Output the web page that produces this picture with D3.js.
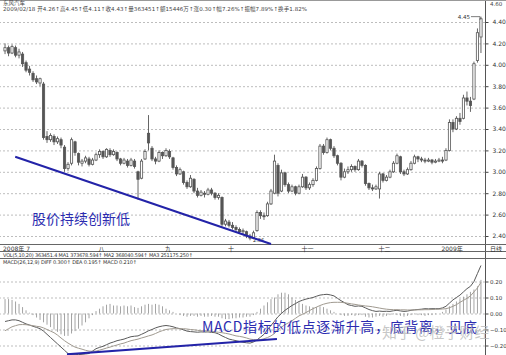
<!DOCTYPE html>
<html>
<head>
<meta charset="utf-8">
<script src="https://cdn.jsdelivr.net/npm/d3@7"></script>
<style>
  html, body { margin: 0; padding: 0; background: #fff; }
  svg { display: block; }
  text { font-family: "DejaVu Sans", "Noto Sans CJK SC", sans-serif; }
  .note { font-family: "Noto Sans CJK SC", sans-serif; }
</style>
</head>
<body>
<svg id="chart" width="506" height="355"></svg>
<script>
// daily candles (price in yuan)
const OPEN = [
  4.13, 4.16, 4.11, 4.16, 4.09, 4.10, 4.02, 3.96, 3.92, 3.87,
  3.83, 3.82, 3.33, 3.30, 3.33, 3.28, 3.30, 3.23, 3.03, 3.08,
  3.28, 3.17, 3.08, 3.10, 3.12, 3.07, 3.11, 3.16, 3.19, 3.14,
  3.20, 3.16, 3.18, 3.12, 3.08, 3.10, 3.06, 3.10, 3.00, 2.94,
  3.12, 3.36, 3.22, 3.12, 3.10, 3.18, 3.15, 3.19, 3.13, 3.04,
  2.98, 3.00, 2.90, 2.86, 2.93, 2.82, 2.78, 2.80, 2.79, 2.83,
  2.80, 2.76, 2.76, 2.51, 2.53, 2.50, 2.48, 2.46, 2.44, 2.44,
  2.40, 2.38, 2.45, 2.62, 2.59, 2.59, 2.70, 2.80, 3.06, 2.82,
  2.99, 2.88, 2.82, 2.86, 2.80, 2.86, 2.95, 2.85, 2.88, 2.92,
  3.03, 3.24, 3.18, 3.30, 3.22, 3.15, 3.08, 2.95, 3.00, 3.02,
  3.05, 3.02, 3.10, 3.06, 2.89, 2.85, 2.84, 2.84, 2.98, 2.92,
  2.95, 3.00, 3.08, 3.14, 3.00, 2.98, 3.02, 3.08, 3.14, 3.12,
  3.11, 3.10, 3.11, 3.09, 3.10, 3.11, 3.11, 3.20, 3.46, 3.40,
  3.50, 3.50, 3.69, 3.66, 3.68, 4.04, 4.26,
];
const HIGH = [
  4.20, 4.18, 4.19, 4.18, 4.15, 4.12, 4.04, 3.99, 3.94, 3.90,
  3.88, 3.84, 3.38, 3.36, 3.35, 3.33, 3.32, 3.25, 3.09, 3.32,
  3.29, 3.18, 3.12, 3.15, 3.14, 3.13, 3.18, 3.21, 3.20, 3.22,
  3.22, 3.21, 3.19, 3.13, 3.13, 3.12, 3.13, 3.12, 3.01, 3.12,
  3.21, 3.53, 3.24, 3.14, 3.20, 3.19, 3.22, 3.21, 3.14, 3.06,
  3.04, 3.01, 2.92, 2.97, 2.94, 2.85, 2.83, 2.82, 2.85, 2.85,
  2.81, 2.80, 2.77, 2.56, 2.55, 2.53, 2.50, 2.48, 2.47, 2.45,
  2.42, 2.45, 2.64, 2.64, 2.62, 2.72, 2.84, 3.16, 3.08, 3.02,
  3.00, 2.90, 2.88, 2.87, 2.88, 2.98, 2.96, 2.90, 2.94, 3.05,
  3.26, 3.26, 3.32, 3.31, 3.24, 3.16, 3.09, 3.03, 3.05, 3.07,
  3.06, 3.12, 3.11, 3.07, 2.90, 2.88, 2.88, 3.00, 2.99, 2.97,
  3.02, 3.10, 3.17, 3.15, 3.02, 3.04, 3.10, 3.16, 3.15, 3.14,
  3.13, 3.13, 3.12, 3.12, 3.13, 3.14, 3.22, 3.49, 3.49, 3.52,
  3.55, 3.72, 3.75, 3.70, 4.03, 4.34, 4.45,
];
const LOW = [
  4.10, 4.08, 4.10, 4.07, 4.06, 3.98, 3.93, 3.90, 3.84, 3.82,
  3.80, 3.30, 3.27, 3.28, 3.25, 3.26, 3.22, 3.00, 3.01, 3.06,
  3.15, 3.06, 3.05, 3.08, 3.05, 3.06, 3.10, 3.13, 3.12, 3.13,
  3.14, 3.15, 3.10, 3.06, 3.07, 3.04, 3.05, 3.03, 2.74, 2.93,
  3.11, 3.20, 3.10, 3.07, 3.09, 3.12, 3.14, 3.12, 3.02, 2.96,
  2.97, 2.88, 2.84, 2.85, 2.80, 2.76, 2.77, 2.76, 2.78, 2.78,
  2.74, 2.74, 2.49, 2.49, 2.48, 2.46, 2.44, 2.42, 2.41, 2.38,
  2.36, 2.37, 2.44, 2.56, 2.55, 2.58, 2.69, 2.79, 2.77, 2.81,
  2.86, 2.80, 2.81, 2.78, 2.79, 2.85, 2.83, 2.83, 2.86, 2.91,
  3.02, 3.16, 3.17, 3.20, 3.13, 3.06, 2.92, 2.94, 2.98, 3.00,
  3.00, 3.01, 3.04, 2.87, 2.83, 2.82, 2.83, 2.75, 2.90, 2.91,
  2.94, 2.99, 3.07, 2.98, 2.96, 2.97, 3.01, 3.07, 3.09, 3.09,
  3.08, 3.09, 3.07, 3.08, 3.09, 3.08, 3.10, 3.19, 3.37, 3.39,
  3.44, 3.49, 3.62, 3.56, 3.67, 4.02, 4.11,
];
const CLOSE = [
  4.16, 4.11, 4.17, 4.09, 4.12, 4.01, 3.95, 3.93, 3.86, 3.84,
  3.87, 3.32, 3.30, 3.34, 3.28, 3.31, 3.25, 3.03, 3.07, 3.30,
  3.18, 3.09, 3.10, 3.13, 3.07, 3.11, 3.16, 3.19, 3.14, 3.21,
  3.16, 3.19, 3.12, 3.08, 3.11, 3.06, 3.11, 3.05, 2.93, 3.10,
  3.19, 3.27, 3.12, 3.10, 3.18, 3.15, 3.20, 3.14, 3.04, 2.98,
  3.02, 2.90, 2.86, 2.94, 2.82, 2.78, 2.81, 2.79, 2.83, 2.80,
  2.76, 2.78, 2.51, 2.54, 2.50, 2.48, 2.46, 2.44, 2.45, 2.40,
  2.38, 2.43, 2.62, 2.59, 2.58, 2.70, 2.82, 3.10, 2.80, 2.99,
  2.88, 2.82, 2.86, 2.80, 2.86, 2.95, 2.85, 2.88, 2.92, 3.03,
  3.24, 3.18, 3.30, 3.22, 3.15, 3.08, 2.95, 3.00, 3.02, 3.05,
  3.02, 3.10, 3.06, 2.89, 2.85, 2.84, 2.86, 2.98, 2.92, 2.95,
  3.00, 3.08, 3.15, 3.00, 2.98, 3.02, 3.08, 3.14, 3.12, 3.11,
  3.10, 3.11, 3.09, 3.10, 3.11, 3.10, 3.20, 3.46, 3.40, 3.50,
  3.47, 3.69, 3.66, 3.62, 4.01, 4.30, 4.43,
];

// MACD(26,12,9) lines and bars, one value per candle
const DIFF = [
  -0.05, -0.045, -0.04, -0.04, -0.045, -0.055, -0.065, -0.072, -0.08, -0.087,
  -0.095, -0.11, -0.13, -0.15, -0.17, -0.19, -0.21, -0.23, -0.25, -0.255,
  -0.255, -0.257, -0.255, -0.253, -0.25, -0.235, -0.22, -0.212, -0.205, -0.195,
  -0.185, -0.178, -0.17, -0.165, -0.16, -0.152, -0.145, -0.142, -0.14, -0.13,
  -0.12, -0.108, -0.1, -0.09, -0.083, -0.078, -0.075, -0.078, -0.083, -0.09,
  -0.095, -0.102, -0.11, -0.113, -0.115, -0.117, -0.115, -0.116, -0.115, -0.118,
  -0.12, -0.128, -0.14, -0.15, -0.16, -0.165, -0.17, -0.175, -0.18, -0.183,
  -0.185, -0.178, -0.165, -0.148, -0.13, -0.1, -0.075, -0.048, -0.02, 0.0,
  0.02, 0.035, 0.05, 0.062, 0.075, 0.083, 0.09, 0.095, 0.1, 0.108,
  0.115, 0.118, 0.12, 0.116, 0.11, 0.095, 0.08, 0.068, 0.055, 0.05,
  0.045, 0.047, 0.045, 0.035, 0.025, 0.018, 0.013, 0.015, 0.013, 0.014,
  0.013, 0.017, 0.02, 0.016, 0.013, 0.015, 0.02, 0.023, 0.025, 0.027,
  0.03, 0.029, 0.03, 0.03, 0.03, 0.035, 0.045, 0.065, 0.085, 0.1,
  0.115, 0.135, 0.155, 0.17, 0.2, 0.25, 0.3,
];
const DEA = [
  -0.108, -0.095, -0.083, -0.076, -0.07, -0.069, -0.07, -0.073, -0.076, -0.08,
  -0.083, -0.09, -0.1, -0.11, -0.12, -0.135, -0.153, -0.17, -0.185, -0.198,
  -0.21, -0.217, -0.223, -0.23, -0.235, -0.236, -0.235, -0.229, -0.223, -0.216,
  -0.21, -0.203, -0.197, -0.19, -0.185, -0.177, -0.17, -0.165, -0.16, -0.153,
  -0.147, -0.14, -0.134, -0.125, -0.115, -0.107, -0.1, -0.097, -0.095, -0.095,
  -0.095, -0.095, -0.097, -0.1, -0.102, -0.105, -0.108, -0.108, -0.108, -0.111,
  -0.115, -0.117, -0.12, -0.124, -0.128, -0.134, -0.14, -0.143, -0.147, -0.153,
  -0.16, -0.163, -0.165, -0.163, -0.158, -0.15, -0.14, -0.125, -0.1, -0.085,
  -0.07, -0.058, -0.045, -0.03, -0.015, -0.005, 0.006, 0.018, 0.03, 0.04,
  0.05, 0.058, 0.064, 0.068, 0.07, 0.07, 0.07, 0.067, 0.064, 0.06,
  0.057, 0.053, 0.05, 0.047, 0.045, 0.042, 0.038, 0.034, 0.03, 0.027,
  0.025, 0.024, 0.024, 0.023, 0.023, 0.022, 0.022, 0.022, 0.023, 0.023,
  0.024, 0.024, 0.025, 0.026, 0.027, 0.028, 0.03, 0.036, 0.045, 0.055,
  0.07, 0.082, 0.095, 0.11, 0.135, 0.16, 0.195,
];
const MACD_BAR = [
  0.09, 0.09, 0.085, 0.075, 0.06, 0.04, 0.02, 0.005, -0.01, -0.025,
  -0.04, -0.055, -0.07, -0.085, -0.1, -0.115, -0.13, -0.14, -0.14, -0.125,
  -0.11, -0.095, -0.075, -0.055, -0.03, -0.01, 0.015, 0.03, 0.045, 0.055,
  0.06, 0.05, 0.05, 0.045, 0.05, 0.045, 0.05, 0.04, 0.035, 0.045,
  0.055, 0.06, 0.055, 0.06, 0.055, 0.045, 0.03, 0.02, 0.01, 0.0,
  -0.01, -0.015, -0.02, -0.015, -0.015, -0.02, -0.015, -0.02, -0.02, -0.015,
  -0.02, -0.02, -0.03, -0.035, -0.035, -0.03, -0.03, -0.025, -0.025, -0.02,
  -0.02, -0.01, 0.01, 0.03, 0.05, 0.07, 0.09, 0.1, 0.12, 0.13,
  0.13, 0.12, 0.1, 0.085, 0.07, 0.06, 0.05, 0.045, 0.04, 0.04,
  0.045, 0.04, 0.03, 0.02, 0.01, 0.0, -0.01, -0.015, -0.015, -0.01,
  -0.015, -0.01, -0.01, -0.02, -0.025, -0.025, -0.02, -0.015, -0.02, -0.015,
  -0.01, -0.005, -0.01, -0.015, -0.02, -0.015, -0.01, -0.005, -0.01, -0.01,
  -0.015, -0.01, -0.01, -0.005, 0.0, 0.01, 0.025, 0.045, 0.06, 0.075,
  0.09, 0.105, 0.12, 0.135, 0.15, 0.17, 0.21,
];

// axis ticks
const PRICE_TICKS = [4.4, 4.2, 4.0, 3.8, 3.6, 3.4, 3.2, 3.0, 2.8, 2.6, 2.4];
const MACD_TICKS = [0.2, 0.1, 0.0, -0.1, -0.2];
const DATE_LABELS = ["2008年 7", "八", "九", "十", "十一", "十二", "2009年"];
const DATE_INDEX = [0, 27, 46, 64, 85, 107, 125];

// hand-drawn annotations, in (candle index, value) space
const PRICE_TREND = [[2.9, 3.14], [76, 2.325]];
const MACD_TREND = [[17.7, -0.255], [77.7, -0.16]];

// header texts
const TITLE = "东风汽车";
const HEADER =
  "2009/02/18 开4.26↑高4.45↑低4.11↑收4.43↑量363451↑额15446万↑涨0.30↑幅7.26%↑振幅7.89%↑换手1.82%";
const VOL_INFO =
  "VOL(5,10,20) 363451.4 MA1 373678.594↑ MA2 368040.594↑ MA3 251175.250↑";
const MACD_INFO = "MACD(26,12,9) DIFF 0.300↑ DEA 0.195↑ MACD 0.210↑";

const N = CLOSE.length;
const PLOT_RIGHT = 485;
const BLUE = "#2323a8";

const svg = d3.select("#chart");

// candle positions (x)
const xScale = d3
  .scaleBand()
  .domain(d3.range(N))
  .range([3.2, 482.8])
  .paddingInner(0.35)
  .paddingOuter(0.2);
const cx = (i) => xScale(i) + xScale.bandwidth() / 2;
const xLin = d3.scaleLinear().domain([0, N - 1]).range([cx(0), cx(N - 1)]);

// price scale and MACD scale (y)
const yPrice = d3.scaleLinear().domain([2.4, 4.4]).range([236, 22]);
const yMacd = d3.scaleLinear().domain([-0.2, 0.2]).range([345.5, 281.5]);

// dotted grid lines
function drawGrid(scale, ticks) {
  svg
    .append("g")
    .attr("class", "grid")
    .attr("transform", `translate(${PLOT_RIGHT}, 0)`)
    .call(d3.axisLeft(scale).tickValues(ticks).tickSize(PLOT_RIGHT).tickFormat(""))
    .call((g) => g.select(".domain").remove())
    .call((g) =>
      g.selectAll("line").attr("stroke", "#bdbdbd").attr("stroke-dasharray", "2,2")
    );
}
drawGrid(yPrice, PRICE_TICKS);
drawGrid(yMacd, MACD_TICKS);

// right axes with labels
function drawAxis(scale, ticks, labelX, fontSize) {
  svg
    .append("g")
    .attr("class", "axis")
    .attr("transform", `translate(${PLOT_RIGHT + 0.5}, 0)`)
    .call(d3.axisRight(scale).tickValues(ticks).tickSize(3).tickFormat(d3.format(".2f")))
    .call((g) => g.select(".domain").remove())
    .call((g) => g.selectAll("line").attr("stroke", "#444"))
    .call((g) =>
      g
        .selectAll("text")
        .attr("x", labelX)
        .attr("fill", "#333")
        .style("font-size", fontSize)
    );
}
drawAxis(yPrice, PRICE_TICKS, 7, "6px");
drawAxis(yMacd, MACD_TICKS, 4.5, "5.5px");

// frame lines
const frame = svg.append("g").attr("stroke", "#555").attr("stroke-width", 1);
frame.append("line").attr("x1", PLOT_RIGHT + 0.5).attr("x2", PLOT_RIGHT + 0.5).attr("y1", 0).attr("y2", 355);
[0.5, 244.5, 251.5, 258.5].forEach((y) => {
  frame.append("line").attr("x1", 0).attr("x2", 506).attr("y1", y).attr("y2", y)
    .attr("stroke", y === 0.5 ? "#999" : "#666");
});

// candle wicks
svg
  .append("g")
  .selectAll("line")
  .data(d3.range(N))
  .join("line")
  .attr("x1", (i) => cx(i))
  .attr("x2", (i) => cx(i))
  .attr("y1", (i) => yPrice(HIGH[i]))
  .attr("y2", (i) => yPrice(LOW[i]))
  .attr("stroke", "#555")
  .attr("stroke-width", 0.9);

// candle bodies: hollow when up, filled when down
svg
  .append("g")
  .selectAll("rect")
  .data(d3.range(N))
  .join("rect")
  .attr("x", (i) => xScale(i))
  .attr("width", xScale.bandwidth())
  .attr("y", (i) => yPrice(Math.max(OPEN[i], CLOSE[i])))
  .attr("height", (i) =>
    Math.max(0.8, Math.abs(yPrice(OPEN[i]) - yPrice(CLOSE[i])))
  )
  .attr("fill", (i) => (CLOSE[i] >= OPEN[i] ? "#fff" : "#555"))
  .attr("stroke", "#555")
  .attr("stroke-width", 0.8);

// highest / lowest price markers
const hiX = cx(N - 1);
svg
  .append("path")
  .attr("d", `M${hiX - 10},${yPrice(4.45)}H${hiX - 1}V${yPrice(4.45) + 3}`)
  .attr("fill", "none")
  .attr("stroke", "#444")
  .attr("stroke-width", 0.7);
svg
  .append("text")
  .attr("x", hiX - 11)
  .attr("y", yPrice(4.45) + 2)
  .attr("text-anchor", "end")
  .attr("fill", "#333")
  .style("font-size", "5.5px")
  .text("4.45");
svg
  .append("text")
  .attr("x", cx(70) + 3)
  .attr("y", yPrice(2.36) + 2)
  .attr("fill", "#333")
  .style("font-size", "5px")
  .text("2.36");

// MACD bars
svg
  .append("g")
  .selectAll("line")
  .data(d3.range(N))
  .join("line")
  .attr("x1", (i) => cx(i))
  .attr("x2", (i) => cx(i))
  .attr("y1", yMacd(0))
  .attr("y2", (i) => yMacd(MACD_BAR[i]))
  .attr("stroke", "#9a9a9a")
  .attr("stroke-width", 0.9);

// DIFF and DEA lines
[
  [DIFF, "#5a5a5a"],
  [DEA, "#a09a90"],
].forEach(([series, color]) => {
  svg
    .append("path")
    .datum(series)
    .attr("fill", "none")
    .attr("stroke", color)
    .attr("stroke-width", 1)
    .attr(
      "d",
      d3
        .line()
        .x((d, i) => cx(i))
        .y((d) => yMacd(d))
    );
});

// date strip labels
svg
  .append("g")
  .selectAll("text")
  .data(DATE_LABELS)
  .join("text")
  .attr("x", (d, k) => (k === 0 ? 3 : cx(DATE_INDEX[k]) - 1))
  .attr("y", 250.5)
  .attr("fill", "#333")
  .style("font-size", "6px")
  .text((d) => d);
svg
  .append("text")
  .attr("x", 490)
  .attr("y", 250.5)
  .attr("fill", "#333")
  .style("font-size", "6px")
  .text("日线");

// header and indicator titles
svg.append("text").attr("x", 3).attr("y", 4.5).attr("fill", "#444")
  .style("font-size", "5.5px").text(TITLE);
svg.append("text").attr("x", 3).attr("y", 10.5).attr("fill", "#444")
  .style("font-size", "5.5px").attr("textLength", 304).text(HEADER);
svg.append("text").attr("x", 490).attr("y", 6).attr("fill", "#444")
  .style("font-size", "5.5px").text("4.60");
svg.append("text").attr("x", 3).attr("y", 257).attr("fill", "#333")
  .style("font-size", "5px").attr("textLength", 190).text(VOL_INFO);
svg.append("text").attr("x", 3).attr("y", 264).attr("fill", "#333")
  .style("font-size", "5px").attr("textLength", 134).text(MACD_INFO);

// blue trend lines
const trendLine = (scaleY) =>
  d3
    .line()
    .x((d) => xLin(d[0]))
    .y((d) => scaleY(d[1]));
svg
  .append("path")
  .datum(PRICE_TREND)
  .attr("stroke", BLUE)
  .attr("stroke-width", 2)
  .attr("d", trendLine(yPrice));
svg
  .append("path")
  .datum(MACD_TREND)
  .attr("stroke", BLUE)
  .attr("stroke-width", 2)
  .attr("d", trendLine(yMacd));

// annotation texts
svg
  .append("text")
  .attr("class", "note")
  .attr("x", 32)
  .attr("y", 224)
  .attr("fill", "#2b2bb0")
  .style("font-size", "14px")
  .text("股价持续创新低");
svg
  .append("text")
  .attr("class", "note")
  .attr("x", 202)
  .attr("y", 332)
  .attr("fill", "#2b2bb0")
  .style("font-size", "14px")
  .attr("textLength", 275)
  .text("MACD指标的低点逐渐升高，底背离，见底");

// watermark
svg
  .append("text")
  .attr("class", "note")
  .attr("x", 382)
  .attr("y", 338)
  .attr("fill", "#b5b5b5")
  .attr("fill-opacity", 0.75)
  .style("font-size", "15px")
  .text("知乎 @橙子财经");
</script>
</body>
</html>
